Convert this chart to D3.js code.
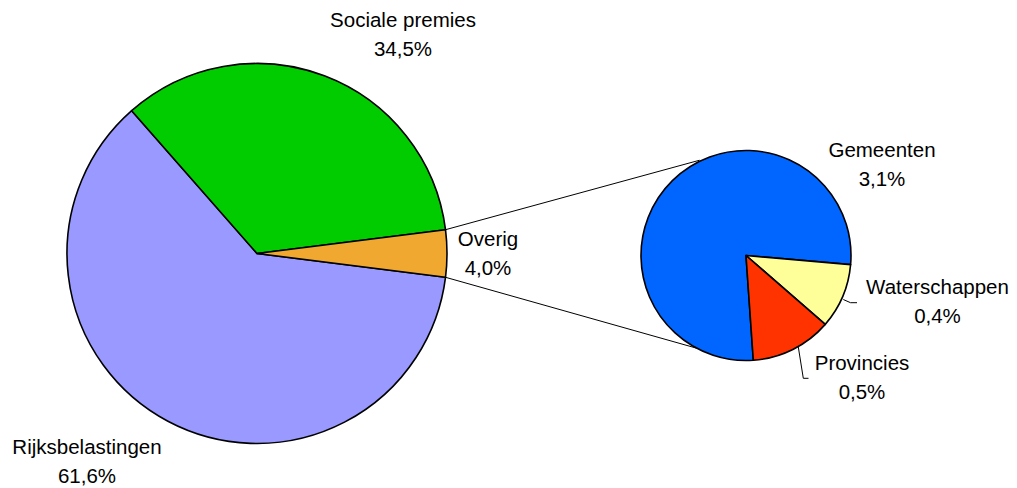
<!DOCTYPE html>
<html>
<head>
<meta charset="utf-8">
<script src="https://cdn.jsdelivr.net/npm/d3@7"></script>
<style>
  body { margin: 0; background: #fff; }
  svg text { font-family: "Liberation Sans", Arial, sans-serif; font-size: 20.5px; fill: #000; }
</style>
</head>
<body>
<svg id="drawing_region"></svg>
<script>
// main pie
const mainCategories = ["Rijksbelastingen", "Sociale premies", "Overig"];
const mainValues = [61.6, 34.5, 4.0];
const mainLabels = ["61,6%", "34,5%", "4,0%"];

// breakdown of "Overig"
const subCategories = ["Gemeenten", "Waterschappen", "Provincies"];
const subValues = [3.1, 0.4, 0.5];
const subLabels = ["3,1%", "0,4%", "0,5%"];

const mainColors = ["#9999FF", "#00CC00", "#F0A830"];
const subColors = ["#0066FF", "#FFFF99", "#FF3300"];

const width = 1017, height = 488;
const deg = Math.PI / 180;

const svg = d3.select('#drawing_region')
    .attr('width', width)
    .attr('height', height);

const main = {cx: 257, cy: 253.5, r: 190};
const sub = {cx: 746, cy: 255.5, r: 105};

// overig centred on 3 o'clock
const overigShare = mainValues[2] / d3.sum(mainValues);
const mainStart = 90 * deg + overigShare * Math.PI;
const mainPie = d3.pie().sort(null)
    .startAngle(mainStart)
    .endAngle(mainStart + 2 * Math.PI);

// waterschappen starts just below 3 o'clock, gemeenten before it
const gemShare = subValues[0] / d3.sum(subValues);
const subStart = 95 * deg - gemShare * 2 * Math.PI;
const subPie = d3.pie().sort(null)
    .startAngle(subStart)
    .endAngle(subStart + 2 * Math.PI);

const mainArcs = mainPie(mainValues);
const subArcs = subPie(subValues);

const mainArc = d3.arc().innerRadius(0).outerRadius(main.r);
const subArc = d3.arc().innerRadius(0).outerRadius(sub.r);

function polar(c, r, a){
    return [c.cx + r * Math.sin(a), c.cy - r * Math.cos(a)];
}

// connector lines from overig to second pie
const ov = mainArcs[2];
const connectors = [
    [polar(main, main.r, ov.startAngle), polar(sub, sub.r + 1, 334 * deg)],
    [polar(main, main.r, ov.endAngle), polar(sub, sub.r, 208 * deg)]
];
svg.selectAll('line.conn')
    .data(connectors)
    .enter()
    .append('line')
    .attr('class', 'conn')
    .attr('x1', d => d[0][0]).attr('y1', d => d[0][1])
    .attr('x2', d => d[1][0]).attr('y2', d => d[1][1])
    .attr('stroke', '#000')
    .attr('stroke-width', 1);

svg.append('g')
    .attr('transform', `translate(${main.cx}, ${main.cy})`)
    .selectAll('path')
    .data(mainArcs)
    .enter()
    .append('path')
    .attr('d', mainArc)
    .attr('fill', (d, i) => mainColors[i])
    .attr('stroke', '#000')
    .attr('stroke-width', 1.6)
    .attr('stroke-linejoin', 'round');

svg.append('g')
    .attr('transform', `translate(${sub.cx}, ${sub.cy})`)
    .selectAll('path')
    .data(subArcs)
    .enter()
    .append('path')
    .attr('d', subArc)
    .attr('fill', (d, i) => subColors[i])
    .attr('stroke', '#000')
    .attr('stroke-width', 1.6)
    .attr('stroke-linejoin', 'round');

// leader lines for the small slices
const leaders = [
    [[843.3, 299.5], [850.5, 302.7], [857, 302.7]],
    [[798.3, 347], [803.3, 378.3], [808.5, 378.3]]
];
svg.selectAll('path.leader')
    .data(leaders)
    .enter()
    .append('path')
    .attr('class', 'leader')
    .attr('d', d3.line())
    .attr('fill', 'none')
    .attr('stroke', '#000')
    .attr('stroke-width', 1);

// label anchors: centre x, baseline y of first line
const mainLabelPos = [[87, 453.5], [403, 26.7], [488, 246]];
const subLabelPos = [[882, 156.7], [937.5, 294.3], [862, 370]];
const lineGap = 29;

function drawLabels(names, pcts, pos){
    const g = svg.append('g');
    names.forEach((n, i) => {
        const t = g.append('text')
            .attr('text-anchor', 'middle')
            .attr('x', pos[i][0])
            .attr('y', pos[i][1]);
        t.append('tspan').attr('x', pos[i][0]).text(n);
        t.append('tspan').attr('x', pos[i][0]).attr('dy', lineGap).text(pcts[i]);
    });
}
drawLabels(mainCategories, mainLabels, mainLabelPos);
drawLabels(subCategories, subLabels, subLabelPos);
</script>
</body>
</html>
